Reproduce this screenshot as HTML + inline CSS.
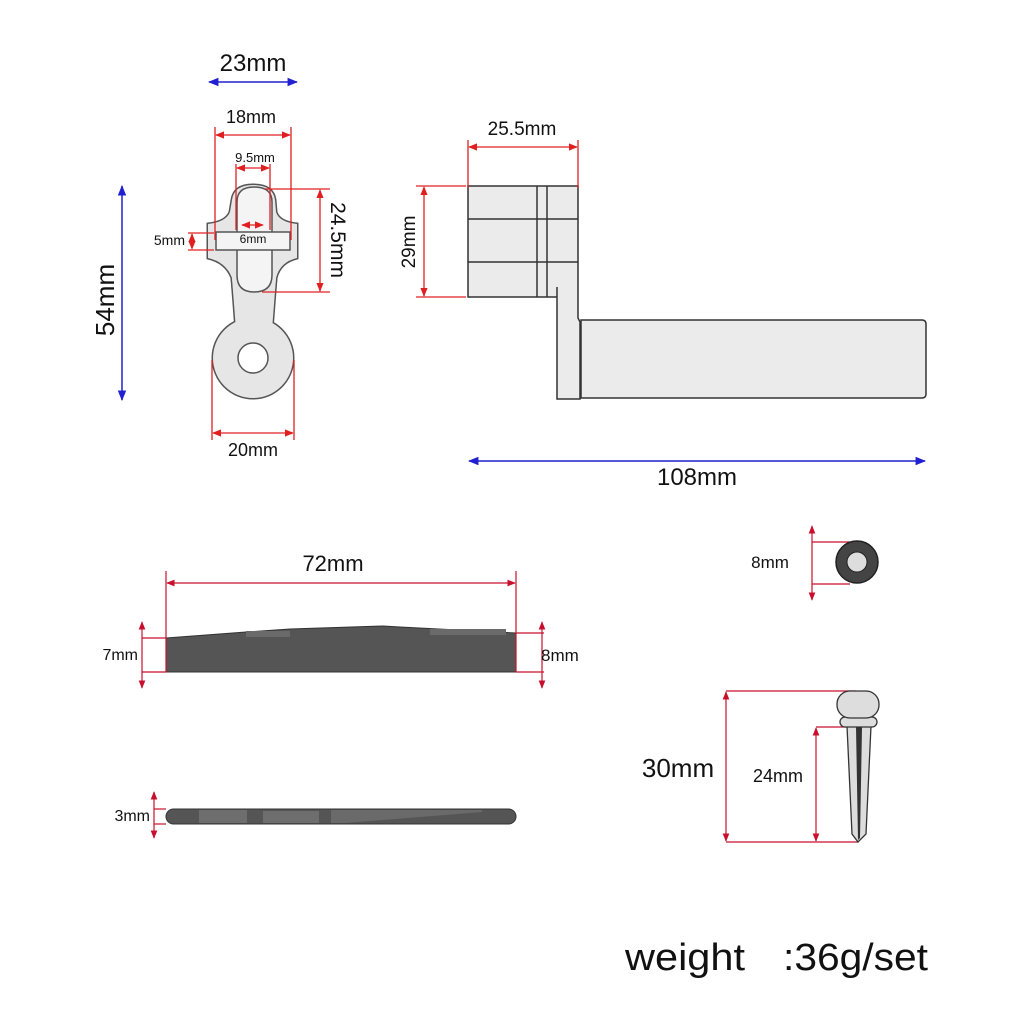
<!DOCTYPE html>
<html><head><meta charset="utf-8"><style>
html,body{margin:0;padding:0;background:#fff}
svg{display:block}
text{font-family:"Liberation Sans",sans-serif;fill:#111}
</style></head><body>
<svg width="1024" height="1024" viewBox="0 0 1024 1024" xmlns="http://www.w3.org/2000/svg">
<defs>
<marker id="ar" viewBox="0 0 10 10" refX="9" refY="5" markerWidth="7" markerHeight="7" orient="auto-start-reverse"><path d="M0,1 L10,5 L0,9 z" fill="#e02020"/></marker>
<marker id="ab" viewBox="0 0 10 10" refX="9" refY="5" markerWidth="7" markerHeight="7" orient="auto-start-reverse"><path d="M0,1 L10,5 L0,9 z" fill="#2020d0"/></marker>
<marker id="ac" viewBox="0 0 10 10" refX="9" refY="5" markerWidth="7" markerHeight="7" orient="auto-start-reverse"><path d="M0,1 L10,5 L0,9 z" fill="#c8102e"/></marker>
</defs>

<!-- ===== Top-left cross part ===== -->
<g stroke="#555" stroke-width="3" fill="#555">
  <path d="M232,200 Q234,185 253,185 Q273,185 275,200 L276,212 Q279,222 297,224 L297,258 Q280,262 276,278 L273,310 L235,310 L232,278 Q226,262 208,258 L208,224 Q226,222 230,212 Z"/>
  <path d="M232,278 L236,330 L272,330 L276,278 Z"/>
  <circle cx="253" cy="358" r="40"/>
</g>
<g fill="#e6e6e6">
  <path d="M232,200 Q234,185 253,185 Q273,185 275,200 L276,212 Q279,222 297,224 L297,258 Q280,262 276,278 L273,310 L235,310 L232,278 Q226,262 208,258 L208,224 Q226,222 230,212 Z"/>
  <path d="M232,278 L236,330 L272,330 L276,278 Z"/>
  <circle cx="253" cy="358" r="40"/>
</g>
<circle cx="253" cy="358" r="15" fill="#fff" stroke="#555" stroke-width="1.5"/>
<path d="M237,202 Q237,187 254,187 Q272,187 272,202 L272,275 Q272,292 254,292 Q237,292 237,275 Z" fill="#f4f4f4" stroke="#555" stroke-width="1.5"/>
<rect x="216" y="232" width="74" height="18" fill="#f4f4f4" stroke="#555" stroke-width="1.5"/>
<rect x="238" y="233" width="33" height="16" fill="#f4f4f4"/>

<g stroke="#e02020" stroke-width="1.3" fill="none">
  <line x1="215" y1="127" x2="215" y2="240"/><line x1="291" y1="127" x2="291" y2="240"/>
  <line x1="216" y1="135" x2="290" y2="135" marker-start="url(#ar)" marker-end="url(#ar)"/>
  <line x1="236" y1="164" x2="236" y2="230"/><line x1="270" y1="164" x2="270" y2="230"/>
  <line x1="237" y1="168" x2="269" y2="168" marker-start="url(#ar)" marker-end="url(#ar)"/>
  <line x1="242" y1="225" x2="263" y2="225" marker-start="url(#ar)" marker-end="url(#ar)"/>
  <line x1="188" y1="233" x2="214" y2="233"/><line x1="188" y1="250" x2="214" y2="250"/>
  <line x1="192" y1="234" x2="192" y2="249" marker-start="url(#ar)" marker-end="url(#ar)" stroke-dasharray="2,1"/>
  <line x1="265" y1="189" x2="330" y2="189"/><line x1="262" y1="292" x2="330" y2="292"/>
  <line x1="320" y1="190" x2="320" y2="291" marker-start="url(#ar)" marker-end="url(#ar)"/>
  <line x1="212" y1="360" x2="212" y2="440"/><line x1="294" y1="360" x2="294" y2="440"/>
  <line x1="213" y1="433" x2="293" y2="433" marker-start="url(#ar)" marker-end="url(#ar)"/>
</g>
<g stroke="#2020d0" stroke-width="1.5">
  <line x1="209" y1="82" x2="297" y2="82" marker-start="url(#ab)" marker-end="url(#ab)"/>
  <line x1="122" y1="186" x2="122" y2="400" marker-start="url(#ab)" marker-end="url(#ab)"/>
</g>
<text x="253" y="71" font-size="24" text-anchor="middle">23mm</text>
<text x="251" y="123" font-size="18" text-anchor="middle">18mm</text>
<text x="255" y="162" font-size="13" text-anchor="middle">9.5mm</text>
<text x="253" y="243" font-size="12" text-anchor="middle">6mm</text>
<text x="185" y="245" font-size="14" text-anchor="end">5mm</text>
<text transform="translate(331,240) rotate(90)" font-size="21" text-anchor="middle">24.5mm</text>
<text transform="translate(114,300) rotate(-90)" font-size="26" text-anchor="middle">54mm</text>
<text x="253" y="456" font-size="18" text-anchor="middle">20mm</text>

<!-- ===== Top-right winder ===== -->
<g stroke="#333" stroke-width="1.5" fill="#ebebeb">
  <path d="M557,287 L557,399 L580,399 L580,322 L578,318 L578,186 L468,186 L468,297 L557,297"/>
  <path d="M581,320 L922,320 Q926,320 926,324 L926,394 Q926,398 922,398 L581,398 Z"/>
  <line x1="537" y1="186" x2="537" y2="297"/><line x1="547" y1="186" x2="547" y2="297"/>
  <line x1="468" y1="219" x2="578" y2="219"/><line x1="468" y1="262" x2="578" y2="262"/>
</g>
<g stroke="#e02020" stroke-width="1.3">
  <line x1="468" y1="140" x2="468" y2="188"/><line x1="578" y1="140" x2="578" y2="188"/>
  <line x1="469" y1="147" x2="577" y2="147" marker-start="url(#ar)" marker-end="url(#ar)"/>
  <line x1="416" y1="186" x2="466" y2="186"/><line x1="416" y1="297" x2="466" y2="297"/>
  <line x1="424" y1="187" x2="424" y2="296" marker-start="url(#ar)" marker-end="url(#ar)"/>
</g>
<line x1="469" y1="461" x2="925" y2="461" stroke="#2020d0" stroke-width="1.5" marker-start="url(#ab)" marker-end="url(#ab)"/>
<text x="522" y="135" font-size="19" text-anchor="middle">25.5mm</text>
<text transform="translate(415,242) rotate(-90)" font-size="19" text-anchor="middle">29mm</text>
<text x="697" y="485" font-size="24" text-anchor="middle">108mm</text>

<!-- ===== Nut ===== -->
<path d="M166,638 L246,632 L290,629 L383,626 L400,627 L516,633 L516,672 L166,672 Z" fill="#555" stroke="#333" stroke-width="1"/>
<rect x="246" y="631" width="44" height="6" fill="#6a6a6a"/>
<rect x="430" y="629" width="76" height="6" fill="#6a6a6a"/>
<g stroke="#c8102e" stroke-width="1.2">
  <line x1="166" y1="571" x2="166" y2="672"/><line x1="516" y1="571" x2="516" y2="672"/>
  <line x1="167" y1="583" x2="515" y2="583" marker-start="url(#ac)" marker-end="url(#ac)"/>
  <line x1="142" y1="638" x2="166" y2="638"/><line x1="142" y1="672" x2="166" y2="672"/>
  <line x1="142" y1="622" x2="142" y2="688" marker-start="url(#ac)" marker-end="url(#ac)"/>
  <line x1="516" y1="633" x2="544" y2="633"/><line x1="516" y1="672" x2="544" y2="672"/>
  <line x1="542" y1="622" x2="542" y2="688" marker-start="url(#ac)" marker-end="url(#ac)"/>
</g>
<text x="333" y="571" font-size="22" text-anchor="middle">72mm</text>
<text x="138" y="660" font-size="16" text-anchor="end">7mm</text>
<text x="541" y="661" font-size="17">8mm</text>

<!-- ===== Saddle ===== -->
<rect x="166" y="809" width="350" height="15" rx="7.5" fill="#555" stroke="#333" stroke-width="1"/>
<rect x="199" y="810" width="48" height="13" fill="#6e6e6e"/>
<rect x="263" y="811" width="56" height="12" fill="#6e6e6e"/>
<path d="M331,810 L482,810 L482,812 L345,823 L331,823 Z" fill="#6a6a6a"/>
<g stroke="#c8102e" stroke-width="1.2">
  <line x1="154" y1="809" x2="166" y2="809"/><line x1="154" y1="824" x2="166" y2="824"/>
  <line x1="154" y1="792" x2="154" y2="838" marker-start="url(#ac)" marker-end="url(#ac)"/>
</g>
<text x="150" y="821" font-size="16" text-anchor="end">3mm</text>

<!-- ===== Ring ===== -->
<g stroke="#c8102e" stroke-width="1.2">
  <line x1="812" y1="542" x2="850" y2="542"/><line x1="812" y1="584" x2="850" y2="584"/>
  <line x1="812" y1="526" x2="812" y2="600" marker-start="url(#ac)" marker-end="url(#ac)"/>
</g>
<circle cx="857" cy="562" r="21" fill="#444" stroke="#222" stroke-width="1.5"/>
<circle cx="857" cy="562" r="10" fill="#ddd" stroke="#222" stroke-width="1"/>
<text x="770" y="568" font-size="17" text-anchor="middle">8mm</text>

<!-- ===== Pin ===== -->
<g stroke="#c8102e" stroke-width="1.2">
  <line x1="726" y1="691" x2="856" y2="691"/><line x1="726" y1="842" x2="858" y2="842"/>
  <line x1="726" y1="692" x2="726" y2="841" marker-start="url(#ac)" marker-end="url(#ac)"/>
  <line x1="816" y1="727" x2="846" y2="727"/>
  <line x1="816" y1="728" x2="816" y2="841" marker-start="url(#ac)" marker-end="url(#ac)"/>
</g>
<path d="M847,726 L871,726 L866,834 L858,842 L852,834 Z" fill="#ddd" stroke="#333" stroke-width="1.3"/>
<path d="M856,727 L862,727 L860,838 L858,840 Z" fill="#333"/>
<rect x="840" y="717" width="37" height="10" rx="5" fill="#ddd" stroke="#333" stroke-width="1.3"/>
<rect x="837" y="691" width="42" height="27" rx="13" fill="#ddd" stroke="#333" stroke-width="1.3"/>
<text x="678" y="777" font-size="26" text-anchor="middle">30mm</text>
<text x="778" y="782" font-size="18" text-anchor="middle">24mm</text>

<text x="625" y="970" font-size="38" textLength="120" lengthAdjust="spacingAndGlyphs">weight</text>
<text x="783" y="970" font-size="38" textLength="145" lengthAdjust="spacingAndGlyphs">:36g/set</text>
</svg>
</body></html>
